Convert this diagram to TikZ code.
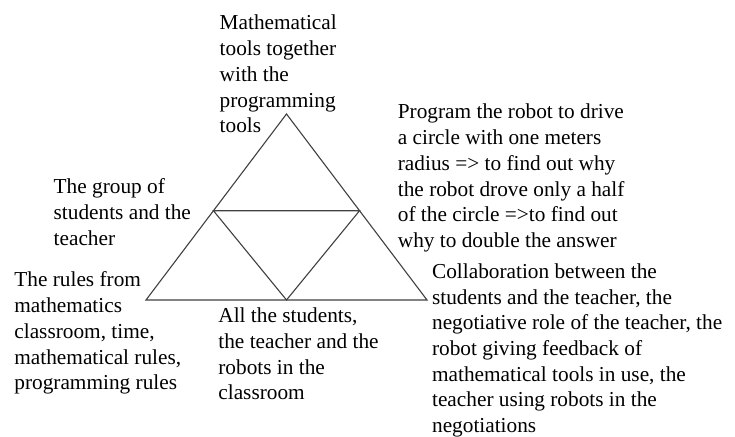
\documentclass[tikz,border=0pt]{standalone}
\usepackage{fontspec}
\setmainfont{Liberation Serif}
\usetikzlibrary{calc}

\begin{document}
\begin{tikzpicture}
        [%%%%%%%%%%%%%%%%%%%%%%%%%%%%%%
        x=0.5pt, y=-0.5pt,
        edge/.style={draw=black!75, line width=0.55pt},
        label/.style={anchor=base west, align=left, inner sep=0pt,
          font=\fontsize{10.65}{12.85}\selectfont},
        ]%%%%%%%%%%%%%%%%%%%%%%%%%%%%%%
        \useasboundingbox (0,0) rectangle (735,437);
        % Corners of the triangle
        \coordinate (top) at (286.5,114);
        \coordinate (left) at (146,300);
        \coordinate (right) at (427,300);
        % Inner corners
        \coordinate (midL) at ($(top)!0.52!(left)$);
        \coordinate (midR) at ($(top)!0.52!(right)$);
        \coordinate (midB) at ($(left)!0.5!(right)$);
        % Lines
        \draw[edge] (top) -- (left) -- (right) -- cycle;
        \draw[edge] (midL) -- (midR) -- (midB) -- cycle;
        % Text (anchored at the baseline of the last line)
        \node[label] (tools) at (219.3,132.8) {Mathematical\\tools together\\with the\\programming\\tools};
        \node[label] (object) at (397.5,247.5) {Program the robot to drive\\a circle with one meters\\radius => to find out why\\the robot drove only a half\\of the circle =>to find out\\why to double the answer};
        \node[label] (subject) at (53.3,245.4) {The group of\\students and the\\teacher};
        \node[label] (rules) at (14,389.8) {The rules from\\mathematics\\classroom, time,\\mathematical rules,\\programming rules};
        \node[label] (community) at (218,399.8) {All the students,\\the teacher and the\\robots in the\\classroom};
        \node[label] (division) at (431.7,432.7) {Collaboration between the\\students and the teacher, the\\negotiative role of the teacher, the\\robot giving feedback of\\mathematical tools in use, the\\teacher using robots in the\\negotiations};
      \end{tikzpicture}
\end{document}
